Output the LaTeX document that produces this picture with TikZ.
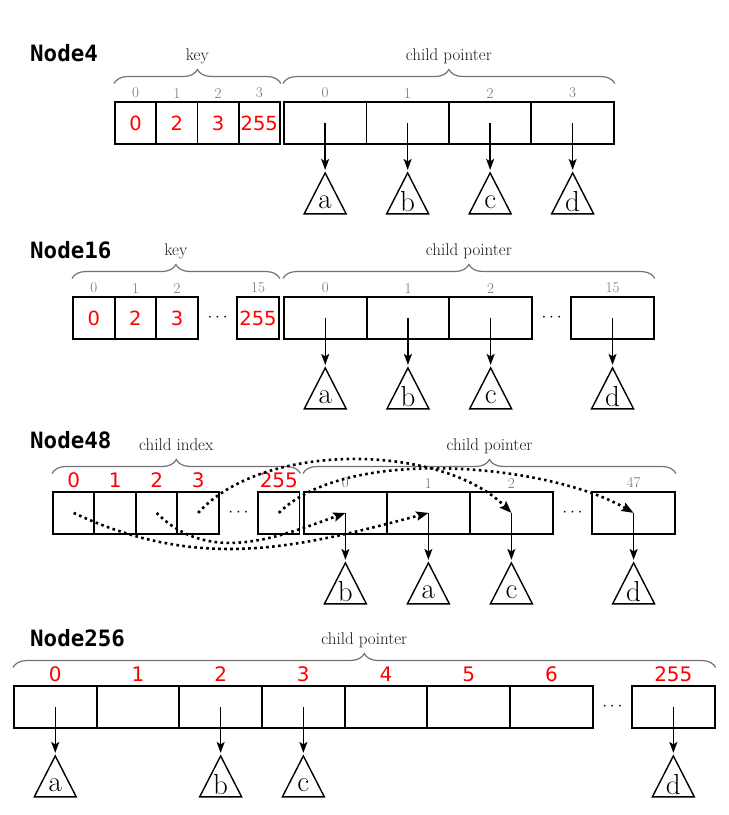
\documentclass[tikz,border=0pt]{standalone}
\usepackage{fontspec}
\usetikzlibrary{matrix,positioning,arrows.meta,decorations.pathreplacing,shapes.geometric}
\newfontfamily\keyfont{DejaVu Sans}
\newfontfamily\headfont{DejaVu Sans Mono}

\begin{document}
\begin{tikzpicture}[x=1pt,y=-1pt,
  head/.style={font=\headfont\bfseries\fontsize{22.5}{24}\selectfont, inner sep=0pt, anchor=west},
  slot/.style={draw, line width=1.8pt, minimum height=42pt, inner sep=0pt,
    outer sep=0pt, anchor=center, text=red, font=\keyfont\fontsize{19.5}{20}\selectfont},
  slots/.style={matrix of nodes, inner sep=0pt, outer sep=0pt, column sep=-1.8pt,
    nodes in empty cells, anchor=north west, nodes={slot}},
  gap/.style={draw=none, text=black, minimum width=41pt, font=\fontsize{16}{18}\selectfont},
  idx/.style={inner sep=0pt, above=3.5pt, text=black!55, font=\fontsize{15}{16}\selectfont},
  redidx/.style={inner sep=0pt, above=4pt, text=red, font=\keyfont\fontsize{20}{21}\selectfont},
  brc/.style={decorate, decoration={brace, amplitude=14pt}, draw=black!55, line width=1.2pt},
  bracetxt/.style={midway, anchor=base, yshift=23pt, inner sep=0pt, text=black!90,
    font=\fontsize{17}{19}\selectfont},
  leaf/.style={isosceles triangle, isosceles triangle stretches, shape border rotate=90,
    minimum width=42pt, minimum height=41pt, draw, line width=1.4pt, inner sep=0pt,
    outer sep=0pt, font=\fontsize{29}{30}\selectfont},
  ptr/.style={line width=1.4pt, -{Stealth[length=11pt,width=8pt,inset=2.5pt]}, shorten >=3pt},
  hop/.style={line width=2.6pt, dash pattern=on 2.6pt off 3.4pt,
    -{Stealth[length=12pt,width=9pt,inset=2pt]}}
  ]
  \useasboundingbox (0,0) rectangle (729,815);

  % Node4
  \node[head] (n4) at (30,53) {Node4};
  \matrix (K4) [slots, nodes={minimum width=41.25pt}] at (114,101) {0 & 2 & 3 & 255\\};
  \matrix (C4) [slots, nodes={minimum width=82.5pt}] at (283,101) {& & & \\};
  \draw[brc] ([yshift=17.5pt]K4.north west) -- ([yshift=17.5pt]K4.north east) node[bracetxt] (l4k) {key};
  \draw[brc] ([yshift=17.5pt]C4.north west) -- ([yshift=17.5pt]C4.north east) node[bracetxt] (l4c) {child pointer};
  \foreach \c/\l in {1/0,2/1,3/2,4/3}
    {
      \node[idx] (i4k\c) at (K4-1-\c.north) {\l};
      \node[idx] (i4c\c) at (C4-1-\c.north) {\l};
    }
  \foreach \c/\t in {1/a,2/b,3/c,4/d}
    {
      \node[leaf, below=29pt of C4-1-\c, anchor=apex] (t4\t) {\t};
      \draw[ptr] (C4-1-\c.center) -- (t4\t.apex);
    }

  % Node16
  \node[head] (n16) at (30,250) {Node16};
  \matrix (K16) [slots, nodes={minimum width=41.7pt}] at (72,296) {0 & 2 & 3 & |[gap]| $\cdots$ & 255\\};
  \matrix (C16) [slots, nodes={minimum width=82.7pt}] at (283,296) {& & & |[gap]| $\cdots$ & \\};
  \draw[brc] ([yshift=17.5pt]K16.north west) -- ([yshift=17.5pt]K16.north east) node[bracetxt] (l16k) {key};
  \draw[brc] ([yshift=17.5pt]C16.north west) -- ([yshift=17.5pt]C16.north east) node[bracetxt] (l16c) {child pointer};
  \foreach \c/\l in {1/0,2/1,3/2,5/15}
    {
      \node[idx] (i16k\c) at (K16-1-\c.north) {\l};
      \node[idx] (i16c\c) at (C16-1-\c.north) {\l};
    }
  \foreach \c/\t in {1/a,2/b,3/c,5/d}
    {
      \node[leaf, below=29pt of C16-1-\c, anchor=apex] (t16\t) {\t};
      \draw[ptr] (C16-1-\c.center) -- (t16\t.apex);
    }

  % Node48
  \node[head] (n48) at (30,440) {Node48};
  \matrix (K48) [slots, nodes={minimum width=41.5pt}] at (52,491) {& & & & |[gap]| $\cdots$ & \\};
  \matrix (C48) [slots, nodes={minimum width=83pt}] at (303,491) {& & & |[gap]| $\cdots$ & \\};
  \draw[brc] ([yshift=17.5pt]K48.north west) -- ([yshift=17.5pt]K48.north east) node[bracetxt] (l48k) {child index};
  \draw[brc] ([yshift=17.5pt]C48.north west) -- ([yshift=17.5pt]C48.north east) node[bracetxt] (l48c) {child pointer};
  \foreach \c/\l in {1/0,2/1,3/2,4/3,6/255}
    \node[redidx] (r48\c) at (K48-1-\c.north) {\l};
  \foreach \c/\l in {1/0,2/1,3/2,5/47}
    \node[idx] (i48c\c) at (C48-1-\c.north) {\l};
  \foreach \c/\t in {1/b,2/a,3/c,5/d}
    {
      \node[leaf, below=29pt of C48-1-\c, anchor=apex] (t48\t) {\t};
      \draw[ptr] (C48-1-\c.center) -- (t48\t.apex);
    }
  % key byte -> slot
  \draw[hop] (K48-1-1.center) to[out=-25,in=-165] (C48-1-2.center);
  \draw[hop] (K48-1-3.center) to[out=-45,in=-160] (C48-1-1.center);
  \draw[hop] (K48-1-4.center) to[out=48,in=135,looseness=0.8] (C48-1-3.center);
  \draw[hop] (K48-1-6.center) to[out=45,in=150,looseness=0.7] (C48-1-5.center);

  % Node256
  \node[head] (n256) at (30,638.5) {Node256};
  \matrix (C256) [slots, nodes={minimum width=82.7pt}] at (13,685) {& & & & & & & |[gap]| $\cdots$ & \\};
  \draw[brc] ([yshift=17.5pt]C256.north west) -- ([yshift=17.5pt]C256.north east) node[bracetxt] (l256c) {child pointer};
  \foreach \c/\l in {1/0,2/1,3/2,4/3,5/4,6/5,7/6,9/255}
    \node[redidx] (r256\c) at (C256-1-\c.north) {\l};
  \foreach \c/\t in {1/a,3/b,4/c,9/d}
    {
      \node[leaf, below=28pt of C256-1-\c, anchor=apex] (t256\t) {\t};
      \draw[ptr] (C256-1-\c.center) -- (t256\t.apex);
    }
\end{tikzpicture}
\end{document}
